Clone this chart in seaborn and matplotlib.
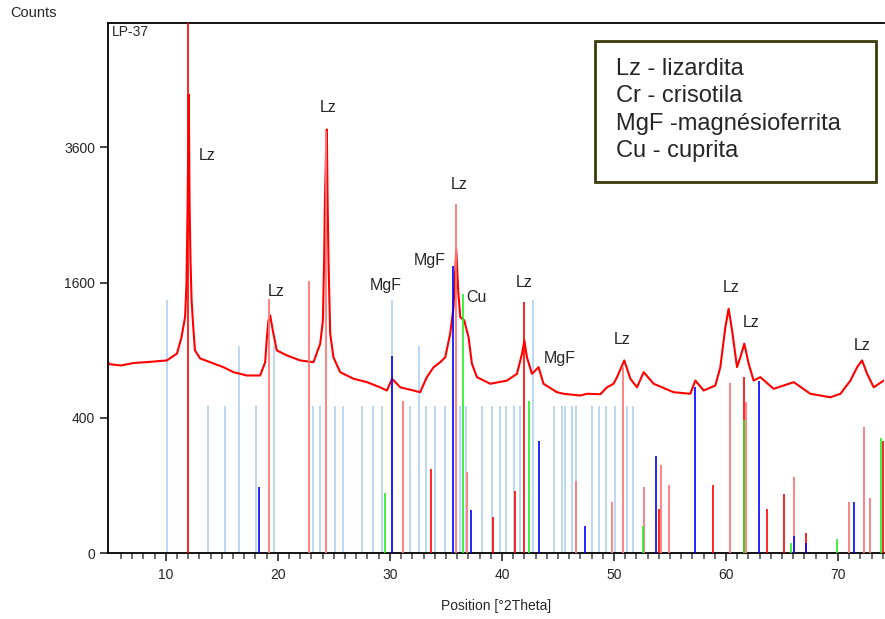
import numpy as np
import matplotlib
matplotlib.use('Agg')
import matplotlib.pyplot as plt
from matplotlib.patches import Rectangle
import seaborn as sns

pos = [4.9, 5.03, 6.0, 7.1, 8.6, 10.1, 11.0, 11.4, 11.72, 11.85, 11.95, 12.05,
       12.12, 12.2, 12.3, 12.41, 12.6, 13.06, 13.96, 15.14, 16.04, 17.23,
       18.42, 18.87, 19.0, 19.16, 19.31, 19.55, 19.9, 20.8, 21.99, 23.18,
       23.78, 24.02, 24.13, 24.2, 24.3, 24.37, 24.44, 24.52, 24.67, 24.96,
       25.56, 26.75, 27.95, 29.13, 29.73, 30.2, 30.92, 32.1, 32.7, 33.3,
       33.9, 34.5, 34.94, 35.38, 35.68, 35.92, 36.1, 36.28, 36.63, 37.02,
       37.32, 37.77, 38.96, 40.45, 41.34, 41.79, 42.0, 42.23, 42.68, 43.27,
       43.71, 44.91, 45.5, 46.99, 47.59, 48.78, 49.38, 49.96, 50.27, 50.92,
       51.46, 52.05, 52.65, 53.54, 55.32, 56.81, 57.26, 58.0, 59.04, 59.49,
       59.94, 60.23, 60.54, 60.98, 61.28, 61.63, 62.02, 62.46, 63.06, 64.25,
       66.04, 67.53, 69.31, 70.21, 71.1, 71.7, 72.14, 72.59, 73.18, 74.07]
counts = [790, 780, 770, 790, 800, 812, 871, 1019, 1218, 1600, 2700, 4600,
          2700, 1900, 1400, 1185, 899, 829, 797, 756, 716, 690,
          690, 797, 989, 1185, 1237, 1084, 899, 855, 812, 797,
          959, 1185, 1874, 2720, 3500, 3928, 2720, 1874, 1057, 839,
          716, 665, 639, 601, 578, 665, 601, 578, 566, 677,
          756, 797, 839, 1052, 1323, 2019, 1500, 1218, 1185, 1019,
          784, 677, 627, 651, 703, 869, 989, 839, 703, 756,
          627, 566, 555, 543, 555, 552, 601, 627, 677, 812,
          665, 601, 716, 627, 566, 555, 651, 578, 614, 756,
          1117, 1306, 1084, 756, 839, 959, 784, 651, 677, 590,
          639, 555, 531, 555, 651, 756, 812, 703, 601, 651]

# reference patterns (sticks)
cr_pos = [10.09, 13.80, 15.32, 16.57, 18.09, 19.70, 23.18, 23.80, 25.09, 25.77,
          27.53, 28.48, 29.29, 30.18, 31.81, 32.62, 33.24, 34.04, 34.88, 36.22,
          36.81, 38.21, 39.11, 39.85, 40.32, 41.07, 41.57, 42.77, 44.61, 45.36,
          45.59, 46.21, 46.63, 48.06, 48.63, 49.31, 50.12, 51.16, 51.66]
cr_int = [1398, 470, 470, 936, 470, 936, 470, 470, 470, 470,
          470, 470, 470, 1398, 470, 936, 470, 470, 470, 470,
          470, 470, 470, 470, 470, 470, 470, 1398, 470, 470,
          470, 470, 470, 470, 470, 470, 470, 470, 470]

lz_pos = [19.22, 22.77, 24.29, 31.16, 35.92, 36.87, 46.6, 49.85, 50.77, 52.64,
          54.22, 54.91, 60.36, 61.81, 66.07, 70.98, 72.32, 72.88]
lz_int = [1416, 1619, 3900, 504, 2673, 142, 115, 58, 756, 94,
          170, 102, 631, 502, 125, 58, 346, 66]

lz2_pos = [12.02, 33.69, 39.16, 41.13, 41.99, 54.01, 58.8, 61.57, 63.63, 65.21,
           67.17, 73.98]
lz2_int = [6200, 155, 29, 85, 1378, 42, 102, 682, 42, 75, 9, 273]

mgf_pos = [18.36, 30.2, 35.62, 37.2, 43.27, 47.41, 53.71, 57.2, 62.91, 66.07,
           67.17, 71.39]
mgf_int = [96, 847, 1804, 41, 277, 16, 206, 600, 644, 6, 2, 58]

cu_pos = [29.58, 36.49, 42.41, 52.62, 61.57, 65.77, 69.88, 73.84]
cu_int = [79, 1472, 504, 16, 390, 2, 4.5, 290]

# peak labels
lbl_text = ['Lz', 'Lz', 'Lz', 'MgF', 'MgF', 'Lz', 'Cu', 'Lz', 'MgF', 'Lz',
            'Lz', 'Lz', 'Lz']
lbl_x = [13.73, 24.5, 19.85, 29.67, 33.6, 36.19, 37.7, 42.0, 45.13, 50.75,
         60.48, 62.27, 72.18]
lbl_y = [3464, 4351, 1498, 1568, 1876, 2980, 1431, 1603, 829, 999,
         1545, 1163, 944]

legend_lines = ['Lz - lizardita', 'Cr - crisotila', 'MgF -magnésioferrita',
                'Cu - cuprita']

sns.set_style('ticks')
plt.rcParams['font.family'] = ['Liberation Sans', 'DejaVu Sans']

fig = plt.figure(figsize=(8.85, 6.19), dpi=100)
ax = fig.add_axes([0.1224, 0.1066, 0.8765, 0.8567])

ax.set_yscale('function', functions=(lambda v: np.sqrt(np.clip(v, 0, None)),
                                     lambda v: np.square(v)))

ax.vlines(cr_pos, 0, cr_int, color='#a9cdf0', lw=1.1, zorder=1)
sns.lineplot(x=pos, y=counts, color='red', lw=1.5, ax=ax, zorder=2)
ax.vlines(lz_pos, 0, lz_int, color='#ff7a7a', lw=1.3, zorder=3)
ax.vlines(lz2_pos, 0, lz2_int, color='red', lw=1.2, zorder=3)
ax.vlines(mgf_pos, 0, mgf_int, color='#0000ff', lw=1.2, zorder=4)
ax.vlines(cu_pos, 0, cu_int, color='#22ee22', lw=1.2, zorder=5)

for t, x, y in zip(lbl_text, lbl_x, lbl_y):
    ax.text(x, y, t, fontsize=11.5, ha='center', va='center')

ax.set_xlim(4.87, 74.1)
ax.set_ylim(0, 6156)
ax.set_yticks([0, 400, 1600, 3600])
ax.set_yticklabels(['0', '400', '1600', '3600'])
ax.set_xticks([10, 20, 30, 40, 50, 60, 70])
ax.set_xticks(np.arange(6, 75, 1), minor=True)
ax.tick_params(axis='both', which='major', direction='out', labelsize=10,
               length=6, width=1.2)
ax.tick_params(axis='x', which='major', pad=5)
ax.tick_params(axis='x', which='minor', direction='out', length=4, width=1.2,
               color='#555555')
ax.spines['right'].set_visible(False)
for s in ['left', 'top', 'bottom']:
    ax.spines[s].set_linewidth(1.3)
    ax.spines[s].set_color('black')

ax.set_xlabel('Position [°2Theta]', fontsize=10, labelpad=12)
ax.set_ylabel('')
ax.text(0.005, 0.995, 'LP-37', transform=ax.transAxes, fontsize=10,
        ha='left', va='top')
fig.text(10 / 885, 1 - 13 / 619, 'Counts', fontsize=10.5, ha='left', va='center')

# legend box
fig.add_artist(Rectangle((595 / 885, 1 - 182 / 619), 281 / 885, 141 / 619,
                         transform=fig.transFigure, fill=False,
                         edgecolor='#3a3a0a', lw=2))
for i, line in enumerate(legend_lines):
    fig.text(616 / 885, 1 - (69 + 27.3 * i) / 619, line, fontsize=17,
             ha='left', va='center')

fig.savefig('out.png', dpi=100)
